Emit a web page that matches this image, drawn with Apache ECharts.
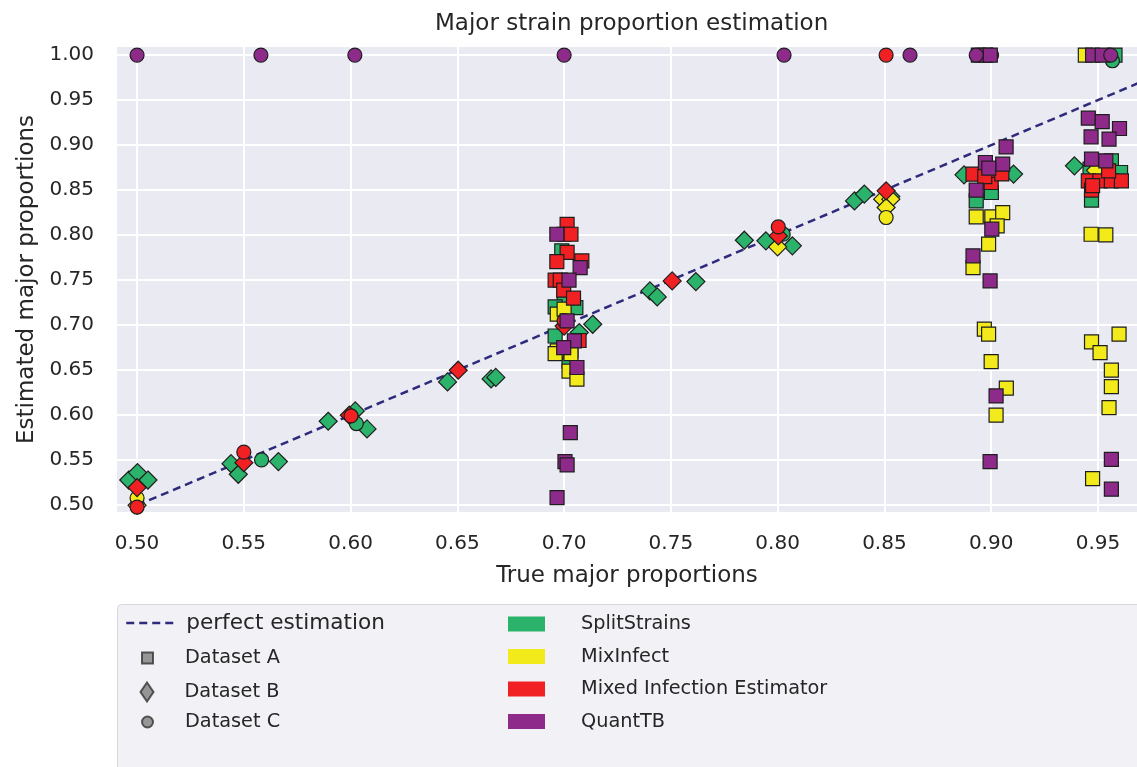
<!DOCTYPE html>
<html>
<head>
<meta charset="utf-8">
<script src="https://cdn.jsdelivr.net/npm/echarts@6/dist/echarts.min.js"></script>
<style>html,body{margin:0;padding:0;background:#fff}#c{width:1137px;height:767px}</style>
</head>
<body>
<div id="c"></div>
<script>
// ---- tick labels ----
const xTicks = [0.50, 0.55, 0.60, 0.65, 0.70, 0.75, 0.80, 0.85, 0.90, 0.95];
const yTicks = [0.50, 0.55, 0.60, 0.65, 0.70, 0.75, 0.80, 0.85, 0.90, 0.95, 1.00];

// ---- perfect estimation line ----
const perfectLine = [[0.50, 0.50], [0.97, 0.97]];

// ---- SplitStrains (green) ----
const splitA = [[0.6989,0.7826],[0.70,0.727],[0.6958,0.7203],[0.7055,0.7196],[0.6958,0.688],[0.7023,0.66],
  [0.894,1.0],[0.9001,0.8474],[0.893,0.838],[0.958,1.0],[0.9563,0.8826],[0.9606,0.8696],[0.9463,0.8733],[0.947,0.8389]];
const splitB = [[0.4961,0.528],[0.5002,0.5363],[0.5051,0.528],[0.544,0.5462],[0.5474,0.5344],[0.5662,0.5485],
  [0.5895,0.5933],[0.6022,0.6048],[0.6077,0.5848],[0.6454,0.637],[0.6658,0.6403],[0.668,0.642],
  [0.7134,0.701],[0.7071,0.6918],[0.7402,0.7381],[0.7436,0.7314],[0.7617,0.7484],
  [0.7844,0.7944],[0.7945,0.7937],[0.8069,0.7881],[0.836,0.838],[0.8406,0.8456],[0.853,0.843],
  [0.8873,0.867],[0.9105,0.8678],[0.939,0.877]];
const splitC = [[0.5583,0.5503],[0.6027,0.5907],[0.8026,0.8011],[0.9568,0.9937]];

// ---- MixInfect (yellow) ----
const mixA = [[0.6968,0.7122],[0.70,0.7178],[0.6968,0.6714],[0.7032,0.6714],[0.6958,0.6684],[0.7032,0.6684],
  [0.7023,0.649],[0.706,0.64],[0.893,0.8203],[0.9003,0.8203],[0.9054,0.825],[0.9028,0.8103],[0.8988,0.79],
  [0.8915,0.764],[0.8968,0.6956],[0.8988,0.69],[0.90,0.6596],[0.9071,0.63],[0.9023,0.60],
  [0.9441,1.0],[0.9468,0.801],[0.9537,0.8003],[0.947,0.6814],[0.951,0.6696],[0.9599,0.69],
  [0.9563,0.65],[0.9563,0.6318],[0.9552,0.6085],[0.9475,0.5296]];
const mixB = [[0.50,0.50],[0.80,0.787],[0.8492,0.84],[0.853,0.84],[0.8508,0.8307],[0.9489,0.872]];
const mixC = [[0.50,0.508],[0.8508,0.8196]];

// ---- Mixed Infection Estimator (red) ----
const mieA = [[0.7014,0.812],[0.70,0.801],[0.7032,0.801],[0.7014,0.7808],[0.6966,0.7707],[0.7083,0.7714],
  [0.6958,0.75],[0.6982,0.75],[0.6998,0.7389],[0.7044,0.73],[0.707,0.683],
  [0.8915,0.8678],[0.8973,0.8585],[0.90,0.8585],[0.90,0.872],[0.905,0.868],[0.897,0.865],
  [0.9455,0.8603],[0.9509,0.8603],[0.9563,0.8603],[0.961,0.8603],[0.955,0.8714],[0.947,0.85],[0.9475,0.855]];
const mieB = [[0.50,0.5196],[0.55,0.5473],[0.5994,0.60],[0.6504,0.65],[0.70,0.699],[0.7506,0.7492],[0.8003,0.7992],[0.8508,0.8492]];
const mieC = [[0.50,0.498],[0.55,0.559],[0.6002,0.5992],[0.70,0.705],[0.8003,0.8092],[0.8508,1.0],[0.9002,1.0]];

// ---- QuantTB (purple) ----
const qtbA = [[0.6966,0.801],[0.7075,0.764],[0.7023,0.75],[0.7014,0.7048],[0.7048,0.6826],[0.6998,0.675],
  [0.706,0.653],[0.7029,0.5807],[0.7004,0.5485],[0.7014,0.5448],[0.6967,0.5085],
  [0.8973,1.0],[0.8996,1.0],[0.907,0.898],[0.8973,0.8807],[0.9054,0.8789],[0.8989,0.8744],[0.893,0.85],
  [0.9003,0.8067],[0.8915,0.777],[0.8995,0.7492],[0.9023,0.6214],[0.8995,0.5485],
  [0.9475,1.0],[0.952,1.0],[0.9455,0.93],[0.952,0.9262],[0.9601,0.9185],[0.9468,0.9092],[0.9552,0.9067],
  [0.947,0.8844],[0.9537,0.8826],[0.9563,0.551],[0.9563,0.5178]];
const qtbC = [[0.50,1.0],[0.558,1.0],[0.602,1.0],[0.70,1.0],[0.803,1.0],[0.862,1.0],[0.893,1.0],[0.956,1.0]];

const methods = [
  {name:'SplitStrains', color:'#2bb36c', sets:[splitA, splitB, splitC]},
  {name:'MixInfect', color:'#f2ea1b', sets:[mixA, mixB, mixC]},
  {name:'Mixed Infection Estimator', color:'#f02023', sets:[mieA, mieB, mieC]},
  {name:'QuantTB', color:'#8e2a8a', sets:[qtbA, [], qtbC]}
];
const shapes = [
  {symbol:'rect', size:14},
  {symbol:'diamond', size:18},
  {symbol:'circle', size:14}
];
const FONT = 'DejaVu Sans';
const TXT = '#262626';
const LINE_COLOR = '#2e2a7c';

const series = [{
  type:'line', name:'perfect estimation', data:perfectLine, symbol:'none', silent:true,
  itemStyle:{color:LINE_COLOR},
  lineStyle:{color:LINE_COLOR, width:2.5, type:[8,5]}, z:1
}];
methods.forEach(m => {
  m.sets.forEach((d, i) => {
    series.push({
      type:'scatter', name:m.name, data:d, symbol:shapes[i].symbol, symbolSize:shapes[i].size,
      itemStyle:{color:m.color, borderColor:'#1e1e1e', borderWidth:1.2, opacity:1}, z:2
    });
  });
});
['Dataset A','Dataset B','Dataset C'].forEach((n, i) => {
  series.push({type:'scatter', name:n, data:[], symbol:shapes[i].symbol,
    itemStyle:{color:'#7f7f7f', borderColor:'#333', borderWidth:1}});
});

const legendText = {fontFamily:FONT, color:TXT, fontSize:19.3, lineHeight:24};
const option = {
  animation:false,
  backgroundColor:'#ffffff',
  title:{text:'Major strain proportion estimation', left:430, top:8,
    textStyle:{fontFamily:FONT, fontSize:23, fontWeight:'normal', color:TXT}},
  grid:{left:117, top:47, width:1028, height:465, show:true, backgroundColor:'#eaeaf2', borderWidth:0},
  xAxis:{type:'value', min:0.4906, max:0.9683,
    name:'True major proportions', nameLocation:'middle', nameGap:53,
    nameTextStyle:{fontFamily:FONT, fontSize:23, color:TXT},
    axisLine:{show:false}, axisTick:{show:false, customValues:xTicks},
    axisLabel:{customValues:xTicks, fontFamily:FONT, fontSize:20, color:TXT, margin:22,
      formatter:v => Number(v).toFixed(2)},
    splitLine:{show:true, lineStyle:{color:'#ffffff', width:2}}},
  yAxis:{type:'value', min:0.4925, max:1.009,
    name:'Estimated major proportions', nameLocation:'middle', nameGap:78, nameRotate:90,
    nameTextStyle:{fontFamily:FONT, fontSize:23, color:TXT},
    axisLine:{show:false}, axisTick:{show:false, customValues:yTicks},
    axisLabel:{customValues:yTicks, fontFamily:FONT, fontSize:20, color:TXT, margin:23,
      formatter:v => Number(v).toFixed(2)},
    splitLine:{show:true, lineStyle:{color:'#ffffff', width:2}}},
  graphic:[{type:'rect', left:117, top:604, z:-10,
    shape:{width:1040, height:180, r:4},
    style:{fill:'#f1f1f6', stroke:'#d6d6dc', lineWidth:1}}],
  legend:[
    {data:['perfect estimation'], left:125, top:611, itemWidth:47, itemHeight:14, padding:0,
      selectedMode:false, itemStyle:{opacity:0},
      lineStyle:{color:LINE_COLOR, width:2.5, type:[8,5]},
      textStyle:Object.assign({}, legendText, {fontSize:21.6, padding:[0,0,0,8]})},
    {data:[{name:'Dataset A', icon:'rect'}], left:141, top:646, itemWidth:11, itemHeight:11, padding:0,
      selectedMode:false, textStyle:Object.assign({}, legendText, {padding:[0,0,0,27]})},
    {data:[{name:'Dataset B', icon:'diamond'}], left:139.5, top:680, itemWidth:13, itemHeight:19, padding:0,
      selectedMode:false, textStyle:Object.assign({}, legendText, {padding:[0,0,0,26]})},
    {data:[{name:'Dataset C', icon:'circle'}], left:141, top:710, itemWidth:11, itemHeight:11, padding:0,
      selectedMode:false, textStyle:Object.assign({}, legendText, {padding:[0,0,0,27]})},
    {data:methods.map(m => ({name:m.name, icon:'rect'})), orient:'vertical', left:508, top:612,
      itemWidth:37, itemHeight:15, itemGap:8.5, padding:0, selectedMode:false,
      itemStyle:{borderWidth:0},
      textStyle:Object.assign({}, legendText, {padding:[0,0,0,31]})}
  ],
  series:series
};
const chart = echarts.init(document.getElementById('c'), null, {renderer:'canvas'});
chart.setOption(option);
</script>
</body>
</html>
